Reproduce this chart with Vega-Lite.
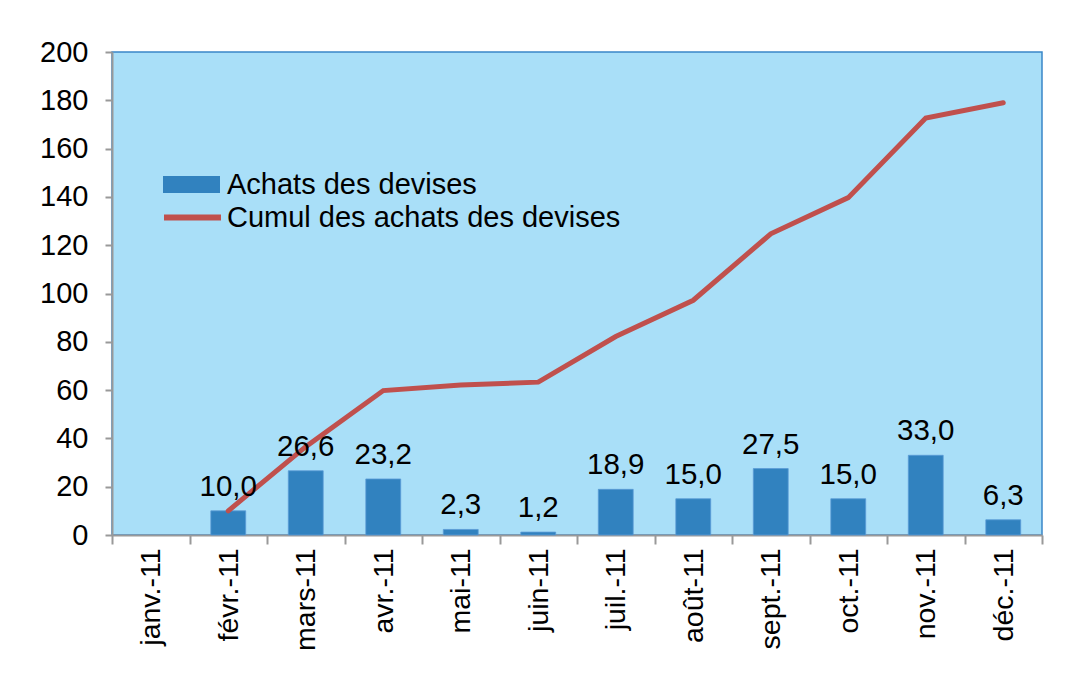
{
  "$schema": "https://vega.github.io/schema/vega-lite/v6.json",
  "width": 930,
  "height": 483,
  "autosize": {"type": "none"},
  "padding": {"left": 112, "top": 52, "right": 46, "bottom": 139},
  "background": "white",
  "config": {
    "font": "Liberation Sans",
    "locale": {"number": {"decimal": ",", "thousands": " ", "grouping": [3], "currency": ["", " €"]}},
    "view": {"fill": "#A9DFF8", "stroke": "#3A87C8", "strokeWidth": 1.5}
  },
  "data": {
    "values": [
      {"mois": "janv.-11", "achats": null, "cumul": null},
      {"mois": "févr.-11", "achats": 10.0, "cumul": 10.0},
      {"mois": "mars-11", "achats": 26.6, "cumul": 36.6},
      {"mois": "avr.-11", "achats": 23.2, "cumul": 59.8},
      {"mois": "mai-11", "achats": 2.3, "cumul": 62.1},
      {"mois": "juin-11", "achats": 1.2, "cumul": 63.3},
      {"mois": "juil.-11", "achats": 18.9, "cumul": 82.2},
      {"mois": "août-11", "achats": 15.0, "cumul": 97.2},
      {"mois": "sept.-11", "achats": 27.5, "cumul": 124.7},
      {"mois": "oct.-11", "achats": 15.0, "cumul": 139.7},
      {"mois": "nov.-11", "achats": 33.0, "cumul": 172.7},
      {"mois": "déc.-11", "achats": 6.3, "cumul": 179.0}
    ]
  },
  "encoding": {
    "x": {
      "field": "mois", "type": "nominal", "title": null,
      "sort": ["janv.-11", "févr.-11", "mars-11", "avr.-11", "mai-11", "juin-11", "juil.-11", "août-11", "sept.-11", "oct.-11", "nov.-11", "déc.-11"],
      "scale": {"paddingInner": 0, "paddingOuter": 0},
      "axis": {
        "tickBand": "extent", "labelAngle": 270, "labelFontSize": 28.5, "labelColor": "#000",
        "labelPadding": 4, "tickSize": 9, "tickColor": "#999", "domainColor": "#999",
        "domainWidth": 2, "tickWidth": 2, "labelBaseline": "middle", "labelAlign": "right"
      }
    }
  },
  "layer": [
    {
      "mark": {"type": "bar", "color": "#3182BF", "stroke": "#5A9BD5", "strokeWidth": 0.8, "width": {"band": 0.45}},
      "encoding": {
        "y": {
          "field": "achats", "type": "quantitative", "title": null,
          "scale": {"domain": [0, 200]},
          "axis": {
            "values": [0, 20, 40, 60, 80, 100, 120, 140, 160, 180, 200],
            "grid": false, "labelFontSize": 29, "labelColor": "#000", "labelPadding": 17,
            "tickSize": 7, "tickColor": "#999", "domainColor": "#999", "domainWidth": 2, "tickWidth": 2
          }
        },
        "color": {
          "datum": "Achats des devises", "type": "nominal",
          "scale": {"range": ["#3182BF"]},
          "legend": {
            "title": null, "orient": "none", "legendX": 51, "legendY": 104, "padding": 0,
            "labelFontSize": 29, "labelColor": "#000", "labelLimit": 0, "labelOffset": 7,
            "symbolType": "M-1,-0.3H1V0.3H-1Z", "symbolSize": 3249, "symbolStrokeWidth": 0,
            "symbolFillColor": "#3182BF"
          }
        }
      }
    },
    {
      "mark": {"type": "line", "strokeWidth": 5, "strokeCap": "round"},
      "encoding": {
        "y": {"field": "cumul", "type": "quantitative", "scale": {"domain": [0, 200]}},
        "stroke": {
          "datum": "Cumul des achats des devises", "type": "nominal",
          "scale": {"range": ["#C0504D"]},
          "legend": {
            "title": null, "orient": "none", "legendX": 49, "legendY": 134, "padding": 0,
            "labelFontSize": 29, "labelColor": "#000", "labelLimit": 0, "labelOffset": 3,
            "symbolType": "stroke", "symbolSize": 3249, "symbolStrokeWidth": 6,
            "symbolStrokeColor": "#C0504D"
          }
        }
      }
    },
    {
      "mark": {"type": "text", "fontSize": 29.5, "baseline": "alphabetic", "dy": -15, "color": "#000"},
      "encoding": {
        "y": {"field": "achats", "type": "quantitative", "scale": {"domain": [0, 200]}},
        "text": {"field": "achats", "type": "quantitative", "format": ".1f"}
      }
    }
  ]
}
